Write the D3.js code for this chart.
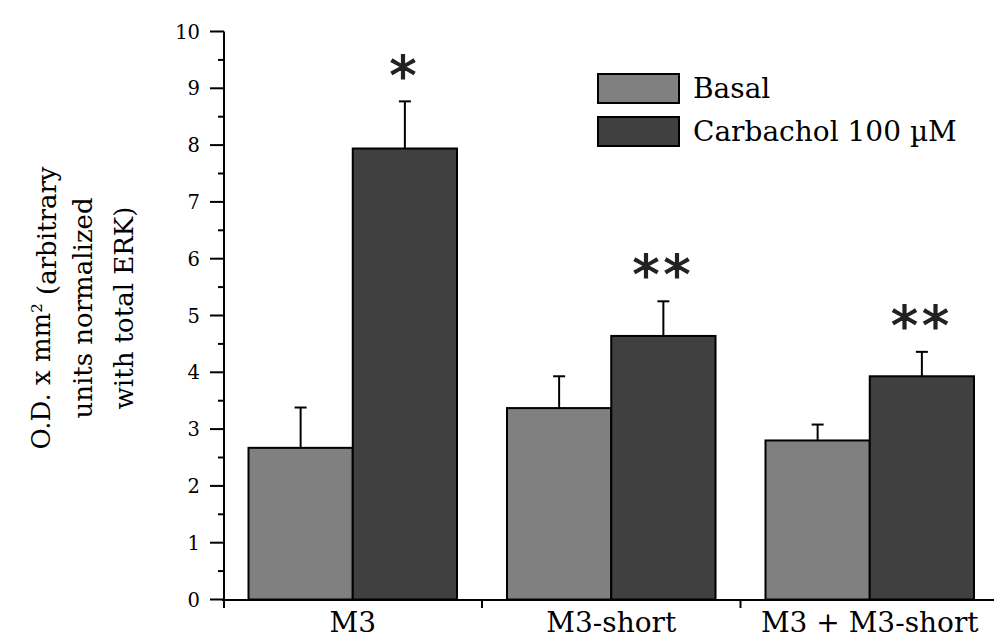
<!DOCTYPE html>
<html>
<head>
<meta charset="utf-8">
<script src="https://cdn.jsdelivr.net/npm/d3@7"></script>
<style>
  html, body { margin: 0; padding: 0; background: #fff; }
  svg { display: block; }
  text { font-family: "DejaVu Serif", "Liberation Serif", serif; fill: #000; }
</style>
</head>
<body>
<svg id="chart" width="994" height="640"></svg>
<script>
// Groups, series and values (mean and SEM)
const categories = ["M3", "M3-short", "M3 + M3-short"];
const seriesNames = ["Basal", "Carbachol 100 \u00b5M"];
const basalMeans = [2.67, 3.37, 2.80];
const basalErrors = [0.71, 0.56, 0.28];
const carbacholMeans = [7.94, 4.64, 3.93];
const carbacholErrors = [0.83, 0.61, 0.43];
const significance = ["*", "**", "**"];
const yTicks = [0, 1, 2, 3, 4, 5, 6, 7, 8, 9, 10];
const yMinorTicks = [0.5, 1.5, 2.5, 3.5, 4.5, 5.5, 6.5, 7.5, 8.5, 9.5];

const colors = ["#808080", "#404040"];

const svg = d3.select("#chart");

const x0 = d3.scaleBand().domain(categories).range([223.5, 999]).padding(0);
const x1 = d3.scaleBand().domain(seriesNames).range([25, x0.bandwidth() - 25]).padding(0);
const y = d3.scaleLinear().domain([0, 10]).range([599.5, 31.5]);

const rows = categories.map((c, i) => ({
  cat: c,
  sig: significance[i],
  bars: [
    { s: seriesNames[0], v: basalMeans[i], e: basalErrors[i], c: colors[0] },
    { s: seriesNames[1], v: carbacholMeans[i], e: carbacholErrors[i], c: colors[1] }
  ]
}));

// Bars
const groups = svg.append("g").selectAll("g").data(rows).join("g")
  .attr("transform", d => `translate(${x0(d.cat)},0)`);

groups.selectAll("rect").data(d => d.bars).join("rect")
  .attr("x", d => x1(d.s))
  .attr("y", d => y(d.v))
  .attr("width", x1.bandwidth())
  .attr("height", d => y(0) - y(d.v))
  .attr("fill", d => d.c)
  .attr("stroke", "#000")
  .attr("stroke-width", 2);

// Error bars (upper only)
groups.selectAll("line.err").data(d => d.bars).join("line")
  .attr("class", "err")
  .attr("x1", d => x1(d.s) + x1.bandwidth() / 2)
  .attr("x2", d => x1(d.s) + x1.bandwidth() / 2)
  .attr("y1", d => y(d.v))
  .attr("y2", d => y(d.v + d.e))
  .attr("stroke", "#000").attr("stroke-width", 2);

groups.selectAll("line.cap").data(d => d.bars).join("line")
  .attr("class", "cap")
  .attr("x1", d => x1(d.s) + x1.bandwidth() / 2 - 6)
  .attr("x2", d => x1(d.s) + x1.bandwidth() / 2 + 6)
  .attr("y1", d => y(d.v + d.e))
  .attr("y2", d => y(d.v + d.e))
  .attr("stroke", "#000").attr("stroke-width", 2);

// Significance marks above the carbachol bars
const sigSize = 54;
groups.append("text")
  .attr("x", d => x1(seriesNames[1]) + x1.bandwidth() / 2)
  .attr("y", d => y(d.bars[1].v + d.bars[1].e) - 35 + 0.503 * sigSize)
  .attr("text-anchor", "middle")
  .style("font-family", "'DejaVu Sans', sans-serif")
  .style("font-size", sigSize + "px")
  .style("fill", "#222")
  .style("stroke", "#222")
  .style("stroke-width", "1.2px")
  .style("letter-spacing", "4px")
  .text(d => d.sig);

// Y axis
const yAxis = svg.append("g");
yAxis.append("line")
  .attr("x1", 224).attr("x2", 224)
  .attr("y1", y(10)).attr("y2", 608)
  .attr("stroke", "#000").attr("stroke-width", 2);
yAxis.selectAll("line.major").data(yTicks).join("line")
  .attr("class", "major")
  .attr("x1", 210).attr("x2", 224)
  .attr("y1", d => y(d)).attr("y2", d => y(d))
  .attr("stroke", "#000").attr("stroke-width", 2);
yAxis.selectAll("line.minor").data(yMinorTicks).join("line")
  .attr("class", "minor")
  .attr("x1", 218).attr("x2", 224)
  .attr("y1", d => y(d)).attr("y2", d => y(d))
  .attr("stroke", "#000").attr("stroke-width", 2);
yAxis.selectAll("text").data(yTicks).join("text")
  .attr("x", 200)
  .attr("y", d => y(d))
  .attr("dy", "0.36em")
  .attr("text-anchor", "end")
  .style("font-size", "19.5px")
  .text(d => d);

// X axis
const xAxis = svg.append("g");
xAxis.append("line")
  .attr("x1", 222).attr("x2", 994)
  .attr("y1", 600).attr("y2", 600)
  .attr("stroke", "#000").attr("stroke-width", 2);
xAxis.selectAll("line.tick").data(categories.slice(1)).join("line")
  .attr("class", "tick")
  .attr("x1", d => x0(d)).attr("x2", d => x0(d))
  .attr("y1", 600).attr("y2", 608)
  .attr("stroke", "#000").attr("stroke-width", 2);
xAxis.selectAll("text").data(categories).join("text")
  .attr("x", d => x0(d) + x0.bandwidth() / 2)
  .attr("y", 632)
  .attr("text-anchor", "middle")
  .style("font-size", "28px")
  .text(d => d);

// Y axis title (three lines)
const titleLines = [50, 92, 133];
const t1 = svg.append("text")
  .attr("transform", `translate(${titleLines[0]},308) rotate(-90)`)
  .attr("text-anchor", "middle")
  .style("font-size", "26px");
t1.append("tspan").text("O.D. x mm");
t1.append("tspan").attr("dy", "-0.55em").style("font-size", "15px").text("2");
t1.append("tspan").attr("dy", "0.55em").text(" (arbitrary");
svg.append("text")
  .attr("transform", `translate(${titleLines[1]},308) rotate(-90)`)
  .attr("text-anchor", "middle")
  .style("font-size", "26px")
  .text("units normalized");
svg.append("text")
  .attr("transform", `translate(${titleLines[2]},308) rotate(-90)`)
  .attr("text-anchor", "middle")
  .style("font-size", "26px")
  .text("with total ERK)");

// Legend
const legend = svg.append("g").selectAll("g").data(seriesNames).join("g")
  .attr("transform", (d, i) => `translate(598,${74 + i * 43})`);
legend.append("rect")
  .attr("width", 81).attr("height", 29)
  .attr("fill", (d, i) => colors[i])
  .attr("stroke", "#000").attr("stroke-width", 2);
legend.append("text")
  .attr("x", 95).attr("y", 24)
  .style("font-size", "28px")
  .text(d => d);
</script>
</body>
</html>
